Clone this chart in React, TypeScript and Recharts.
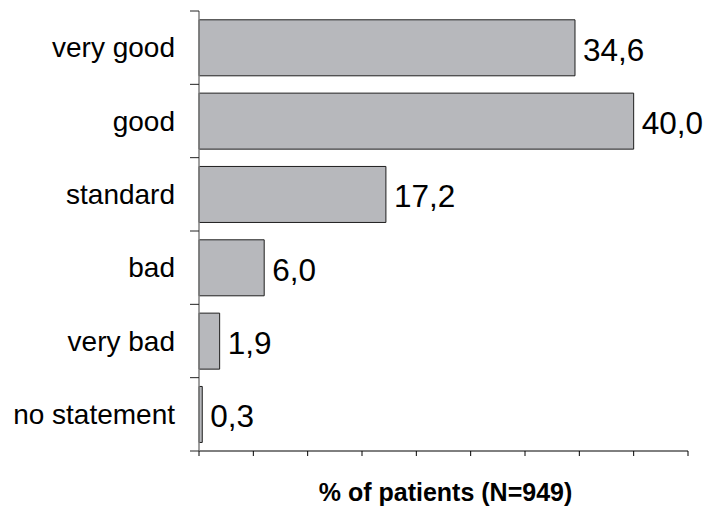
import React from 'react';
import { BarChart, Bar, XAxis, YAxis, LabelList } from 'recharts';

const categories = ['very good', 'good', 'standard', 'bad', 'very bad', 'no statement'];
const percentValues = [34.6, 40.0, 17.2, 6.0, 1.9, 0.3];
const xTicks = [0, 5, 10, 15, 20, 25, 30, 35, 40, 45];
const axisTitle = '% of patients (N=949)';

const data = categories.map((c, i) => ({ category: c, value: percentValues[i] }));

const W = 707;
const H = 509;
const M = { top: 11, right: 19, bottom: 0, left: 0 };
const Y_AXIS_W = 199;
const X_AXIS_H = 58;
const FONT = "Arial, 'Liberation Sans', sans-serif";
const plotH = H - M.top - M.bottom - X_AXIS_H;
const halfBand = plotH / categories.length / 2;
const axisX = M.left + Y_AXIS_W;

const CategoryTick = (props: any) => {
  const { y, payload, index } = props;
  const last = index === categories.length - 1;
  return (
    <g>
      <line x1={axisX - 9} x2={axisX} y1={y - halfBand} y2={y - halfBand} stroke="#222" strokeWidth={1} />
      {last && (
        <line x1={axisX - 9} x2={axisX} y1={y + halfBand} y2={y + halfBand} stroke="#222" strokeWidth={1} />
      )}
      <text
        x={axisX - 24}
        y={y}
        textAnchor="end"
        dominantBaseline="central"
        fontSize={28}
        fontFamily={FONT}
        fill="#000"
      >
        {payload.value}
      </text>
    </g>
  );
};

const ValueLabel = (props: any) => {
  const { x, y, width, height, value } = props;
  return (
    <text
      x={x + width + 8}
      y={y + height / 2 + 2}
      textAnchor="start"
      dominantBaseline="central"
      fontSize={31.5}
      fontFamily={FONT}
      fill="#000"
    >
      {Number(value).toFixed(1).replace('.', ',')}
    </text>
  );
};

const TitleLabel = (props: any) => {
  const { viewBox } = props;
  return (
    <text
      x={viewBox.x + viewBox.width / 2 + 2}
      y={viewBox.y + 41}
      textAnchor="middle"
      dominantBaseline="central"
      fontSize={25}
      fontWeight="bold"
      fontFamily={FONT}
      fill="#000"
    >
      {axisTitle}
    </text>
  );
};

export default function App() {
  return (
    <div style={{ position: 'absolute', left: 0, top: 0, width: W, height: H, background: '#fff' }}>
      <BarChart
        width={W}
        height={H}
        data={data}
        layout="vertical"
        margin={M}
        barCategoryGap="12%"
      >
        <XAxis
          type="number"
          domain={[0, 45]}
          ticks={xTicks}
          height={X_AXIS_H}
          tickSize={5}
          tickFormatter={() => ''}
          axisLine={{ stroke: '#000', strokeWidth: 1 }}
          tickLine={{ stroke: '#000', strokeWidth: 1 }}
          label={<TitleLabel />}
        />
        <YAxis
          type="category"
          dataKey="category"
          width={Y_AXIS_W}
          tickLine={false}
          axisLine={{ stroke: '#7f7f7f', strokeWidth: 1.5 }}
          tick={<CategoryTick />}
          interval={0}
        />
        <Bar dataKey="value" fill="#b7b8bc" stroke="#1e1e1e" strokeWidth={1} isAnimationActive={false}>
          <LabelList dataKey="value" content={<ValueLabel />} />
        </Bar>
      </BarChart>
    </div>
  );
}
